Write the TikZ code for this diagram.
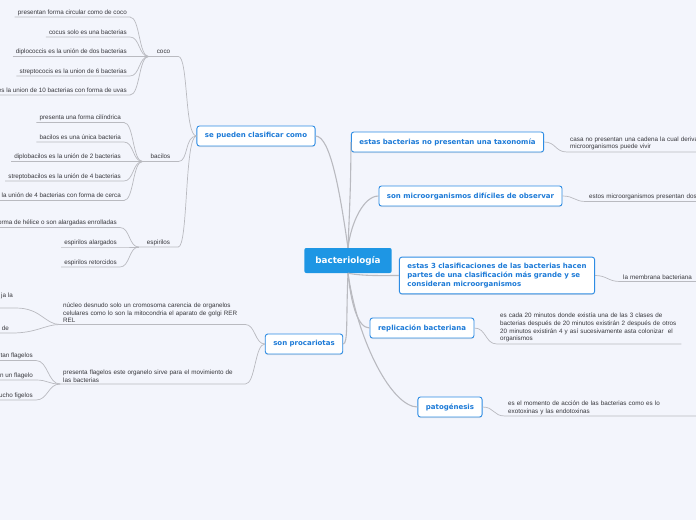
\documentclass[tikz,border=0pt]{standalone}
\usepackage{fontspec}
\usetikzlibrary{shadows}
\newfontfamily\dejavu{DejaVu Sans}
\newfontfamily\libsans{Liberation Sans}
\newcommand\rootfont{\dejavu\bfseries\fontsize{8.8}{10}\selectfont}
\newcommand\branchfont{\dejavu\bfseries\fontsize{7}{9}\selectfont}
\newcommand\leaffont{\libsans\fontsize{6.3}{7.8}\selectfont}
\definecolor{bgcol}{RGB}{243,245,252}
\definecolor{rootblue}{RGB}{30,150,228}
\definecolor{bluebord}{RGB}{45,140,228}
\definecolor{bluetext}{RGB}{28,122,215}
\definecolor{leafgray}{RGB}{55,55,60}
\definecolor{linegray}{RGB}{185,186,192}
\begin{document}
\begin{tikzpicture}[x=1pt, y=1pt,
    root/.style={fill=rootblue, rounded corners=2pt, text=white, font=\rootfont,
        inner xsep=11pt, minimum height=25pt},
    branch/.style={draw=bluebord, line width=0.9pt, fill=white, rounded corners=2.5pt,
        text=bluetext, font=\branchfont, inner xsep=8pt, minimum height=20pt,
        drop shadow={shadow xshift=0pt, shadow yshift=-1pt, opacity=0.2}},
    note/.style={font=\leaffont, text=leafgray, inner xsep=3pt, inner ysep=1.5pt, align=left},
    leaf/.style={font=\leaffont, text=leafgray, inner xsep=3pt, inner ysep=1.5pt, text depth=1.3pt},
    mid/.style={leaf, inner xsep=8pt},
    trunk/.style={draw=linegray, line width=1.1pt},
    twig/.style={draw=linegray, line width=0.7pt}]
    \fill[bgcol] (0,0) rectangle (696,-520);
    \useasboundingbox (0,0) rectangle (696,-520);

    % Nodes
    \node[root] (bact) at (348,-260.5) {bacteriología};
    \node[branch] (clasif) at (256,-136) {se pueden clasificar como};
    \node[branch] (taxo) at (447.5,-142) {estas bacterias no presentan una taxonomía};
    \node[branch] (observ) at (470.5,-196) {son microorganismos difíciles de observar};
    \node[branch, align=left, inner ysep=6pt] (hacen) at (497,-275.5)
        {estas 3 clasificaciones de las bacterias hacen\\partes de una clasificación más grande y se\\consideran microorganismos};
    \node[branch] (replic) at (422,-328) {replicación bacteriana};
    \node[branch] (patog) at (450,-407) {patogénesis};
    \node[branch] (procar) at (304,-344) {son procariotas};

    \node[mid, anchor=south] (coco) at (163.5,-56.5) {coco};
    \node[leaf, anchor=south east] (coco1) at (130,-17) {presentan forma circular como de coco};
    \node[leaf, anchor=south east] (coco2) at (130,-37) {cocus solo es una bacterias};
    \node[leaf, anchor=south east] (coco3) at (130,-56.5) {diplococcis es la unión de dos bacterias};
    \node[leaf, anchor=south east] (coco4) at (130,-76) {streptococis es la union de 6 bacterias};
    \node[leaf, anchor=south east] (coco5) at (130,-95) {es la union de 10 bacterias con forma de uvas};

    \node[mid, anchor=south] (bacil) at (160.5,-161.5) {bacilos};
    \node[leaf, anchor=south east] (bacil1) at (124,-122.5) {presenta una forma cilíndrica};
    \node[leaf, anchor=south east] (bacil2) at (124,-142) {bacilos es una única bacteria};
    \node[leaf, anchor=south east] (bacil3) at (124,-161.5) {diplobacilos es la unión de 2 bacterias};
    \node[leaf, anchor=south east] (bacil4) at (124,-181) {streptobacilos es la unión de 4 bacterias};
    \node[leaf, anchor=south east] (bacil5) at (124,-200.5) {la unión de 4 bacterias con forma de cerca};

    \node[mid, anchor=south] (espir) at (158.5,-247) {espirilos};
    \node[leaf, anchor=south east] (espir1) at (120,-227.5) {forma de hélice o son alargadas enrolladas};
    \node[leaf, anchor=south east] (espir2) at (120,-247) {espirilos alargados};
    \node[leaf, anchor=south east] (espir3) at (120,-267) {espirilos retorcidos};

    \node[note, text width=179pt, anchor=south west] (nucleo) at (60,-324.5)
        {núcleo desnudo solo un cromosoma carencia de organelos\\celulares como lo son la mitocondria el aparato de golgi RER\\REL};
    \node[leaf, text depth=9pt, anchor=south east] (nucleo1) at (16,-308) {ja la};
    \node[leaf, anchor=south east] (nucleo2) at (12,-333) {de};

    \node[note, text width=179pt, anchor=south west] (flagel) at (60,-384)
        {presenta flagelos este organelo sirve para el movimiento de\\las bacterias};
    \node[leaf, anchor=south east] (flagel1) at (36,-360.5) {tan flagelos};
    \node[leaf, anchor=south east] (flagel2) at (36,-380) {n un flagelo};
    \node[leaf, anchor=south east] (flagel3) at (36,-400) {ucho figelos};

    \node[note, text width=135pt, anchor=south west] (taxo1) at (567,-152)
        {casa no presentan una cadena la cual derivan\\microorganismos puede vivir};
    \node[note, text width=115pt, anchor=south west] (observ1) at (586,-201.5)
        {estos microorganismos presentan dos};
    \node[note, text width=80pt, anchor=south west] (hacen1) at (620,-281.5)
        {la membrana bacteriana};
    \node[note, text width=178pt, anchor=south west] (replic1) at (497,-344)
        {es cada 20 minutos donde existía una de las 3 clases de\\bacterias después de 20 minutos existirán 2 después de otros\\20 minutos existirán 4 y así sucesivamente asta colonizar\ \ el\\organismos};
    \node[note, text width=195pt, anchor=south west] (patog1) at (505,-416)
        {es el momento de acción de las bacterias como es lo\\exotoxinas y las endotoxinas};

    % Edges
    \draw[trunk] (bact.north) .. controls +(-8,55) and +(15,0) .. (clasif.east);
    \draw[trunk] (bact.north) .. controls +(2,50) and +(0,-40) .. (taxo.west);
    \draw[trunk] (bact.north) .. controls +(3,25) and +(-15,0) .. (observ.west);
    \draw[trunk] (bact.south) .. controls +(15,-3) and +(-15,0) .. (hacen.west);
    \draw[trunk] (bact.south) .. controls +(3,-30) and +(-12,0) .. (replic.west);
    \draw[trunk] (bact.south) .. controls +(10,-70) and +(-25,0) .. (patog.west);
    \draw[trunk] (bact.south) .. controls +(-2,-45) and +(5,0) .. (procar.east);

    \draw[twig] (coco.south west) -- (coco.south east) .. controls +(10,0) and +(-12,0) .. (clasif.west);
    \draw[twig] (bacil.south west) -- (bacil.south east) .. controls +(10,0) and +(-12,0) .. (clasif.west);
    \draw[twig] (espir.south west) -- (espir.south east) .. controls +(10,0) and +(-12,0) .. (clasif.west);
    \draw[twig] (coco1.south west) -- (coco1.south east) .. controls +(10,0) and +(-10,0) .. (coco.south west);
    \draw[twig] (coco2.south west) -- (coco2.south east) .. controls +(10,0) and +(-10,0) .. (coco.south west);
    \draw[twig] (coco3.south west) -- (coco3.south east) .. controls +(10,0) and +(-10,0) .. (coco.south west);
    \draw[twig] (coco4.south west) -- (coco4.south east) .. controls +(10,0) and +(-10,0) .. (coco.south west);
    \draw[twig] (coco5.south west) -- (coco5.south east) .. controls +(10,0) and +(-10,0) .. (coco.south west);
    \draw[twig] (bacil1.south west) -- (bacil1.south east) .. controls +(10,0) and +(-10,0) .. (bacil.south west);
    \draw[twig] (bacil2.south west) -- (bacil2.south east) .. controls +(10,0) and +(-10,0) .. (bacil.south west);
    \draw[twig] (bacil3.south west) -- (bacil3.south east) .. controls +(10,0) and +(-10,0) .. (bacil.south west);
    \draw[twig] (bacil4.south west) -- (bacil4.south east) .. controls +(10,0) and +(-10,0) .. (bacil.south west);
    \draw[twig] (bacil5.south west) -- (bacil5.south east) .. controls +(10,0) and +(-10,0) .. (bacil.south west);
    \draw[twig] (espir1.south west) -- (espir1.south east) .. controls +(10,0) and +(-10,0) .. (espir.south west);
    \draw[twig] (espir2.south west) -- (espir2.south east) .. controls +(10,0) and +(-10,0) .. (espir.south west);
    \draw[twig] (espir3.south west) -- (espir3.south east) .. controls +(10,0) and +(-10,0) .. (espir.south west);

    \draw[twig] (nucleo.south west) -- (nucleo.south east) .. controls +(10,0) and +(-10,0) .. (procar.west);
    \draw[twig] (flagel.south west) -- (flagel.south east) .. controls +(10,0) and +(-10,0) .. (procar.west);
    \draw[twig] (nucleo1.south west) -- (nucleo1.south east) .. controls +(25,0) and +(-15,0) .. (nucleo.south west);
    \draw[twig] (nucleo2.south west) -- (nucleo2.south east) .. controls +(25,0) and +(-15,0) .. (nucleo.south west);
    \draw[twig] (flagel1.south west) -- (flagel1.south east) .. controls +(12,0) and +(-12,0) .. (flagel.south west);
    \draw[twig] (flagel2.south west) -- (flagel2.south east) .. controls +(12,0) and +(-12,0) .. (flagel.south west);
    \draw[twig] (flagel3.south west) -- (flagel3.south east) .. controls +(12,0) and +(-12,0) .. (flagel.south west);

    \draw[twig] (taxo.east) .. controls +(12,0) and +(-12,0) .. (taxo1.south west) -- (taxo1.south east);
    \draw[twig] (observ.east) .. controls +(12,0) and +(-12,0) .. (observ1.south west) -- (observ1.south east);
    \draw[twig] (hacen.east) .. controls +(12,0) and +(-12,0) .. (hacen1.south west) -- (hacen1.south east);
    \draw[twig] (replic.east) .. controls +(12,0) and +(-12,0) .. (replic1.south west) -- (replic1.south east);
    \draw[twig] (patog.east) .. controls +(12,0) and +(-12,0) .. (patog1.south west) -- (patog1.south east);
\end{tikzpicture}
\end{document}
